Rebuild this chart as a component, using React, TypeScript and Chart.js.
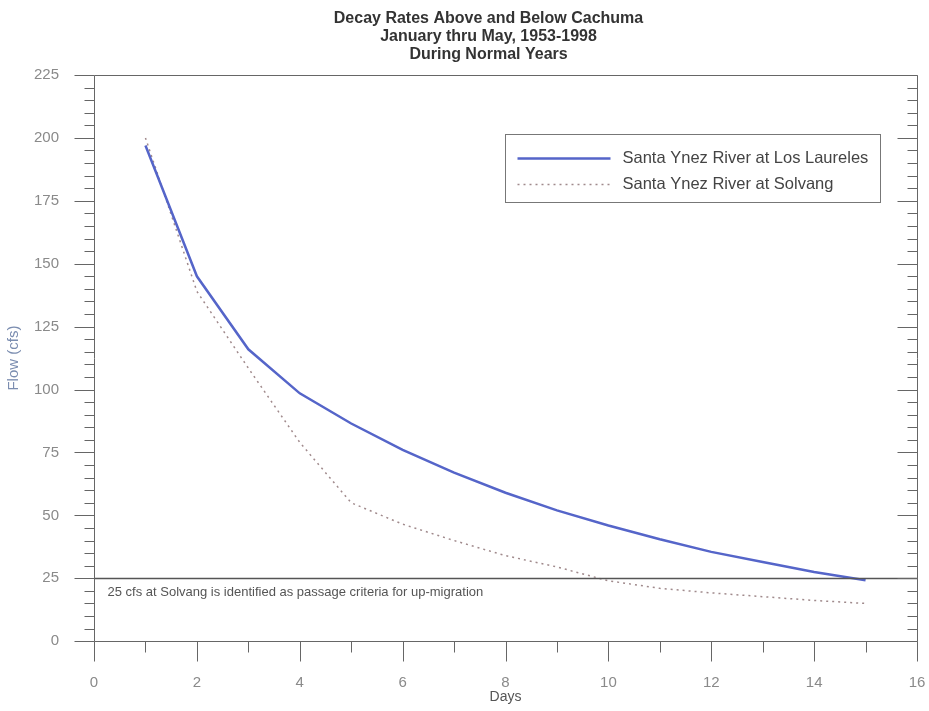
import React, { useEffect, useRef } from "react";
import { Chart, registerables } from "chart.js";

Chart.register(...registerables);

const days = [1, 2, 3, 4, 5, 6, 7, 8, 9, 10, 11, 12, 13, 14, 15];
const losLaureles = [197, 145, 116, 98.5, 86.5, 76, 67, 59, 52, 46, 40.5, 35.5, 31.5, 27.5, 24.2];
const solvang = [200, 139, 108.5, 79, 55, 46.5, 40, 34, 29.5, 24, 21, 19.2, 17.7, 16.2, 15];
const seriesLabels = ["Santa Ynez River at Los Laureles", "Santa Ynez River at Solvang"];
const titleLines = ["Decay Rates Above and Below Cachuma", "January thru May, 1953-1998", "During Normal Years"];
const xAxisTitle = "Days";
const yAxisTitle = "Flow (cfs)";
const xMin = 0, xMax = 16, xStep = 2, xMinorStep = 1;
const yMin = 0, yMax = 225, yStep = 25, yMinorStep = 5;
const criteriaFlow = 25;
const criteriaNote = "25 cfs at Solvang is identified as passage criteria for up-migration";

const FONT = "'Liberation Sans', Arial, Helvetica, sans-serif";

const decorPlugin = {
  id: "decor",
  afterDraw(chart: any) {
    const { ctx, chartArea: a, scales } = chart;
    const xs = scales.x, ys = scales.y;
    const L = Math.round(a.left) + 0.5, R = Math.round(a.right) + 0.5;
    const T = Math.round(a.top) + 0.5, B = Math.round(a.bottom) + 0.5;
    ctx.save();

    // criteria line
    const yc = Math.round(ys.getPixelForValue(criteriaFlow)) + 0.5;
    ctx.strokeStyle = "#555";
    ctx.lineWidth = 1.5;
    ctx.beginPath();
    ctx.moveTo(L, yc);
    ctx.lineTo(R, yc);
    ctx.stroke();
    ctx.fillStyle = "#555";
    ctx.font = `13px ${FONT}`;
    ctx.textAlign = "left";
    ctx.textBaseline = "middle";
    ctx.fillText(criteriaNote, L + 13, yc + 14);

    // frame and ticks
    ctx.strokeStyle = "#666";
    ctx.lineWidth = 1;
    ctx.beginPath();
    ctx.moveTo(L, T); ctx.lineTo(R, T); ctx.lineTo(R, B); ctx.lineTo(L, B); ctx.closePath();
    for (let v = yMin; v <= yMax; v += yMinorStep) {
      const y = Math.round(ys.getPixelForValue(v)) + 0.5;
      const len = v % yStep === 0 ? 20 : 10;
      ctx.moveTo(L - len, y); ctx.lineTo(L, y);
      ctx.moveTo(R, y); ctx.lineTo(R - len, y);
    }
    for (let v = xMin; v <= xMax; v += xMinorStep) {
      const x = Math.round(xs.getPixelForValue(v)) + 0.5;
      const len = v % xStep === 0 ? 20 : 11;
      ctx.moveTo(x, B); ctx.lineTo(x, B + len);
    }
    ctx.stroke();

    // title
    ctx.fillStyle = "#333";
    ctx.font = `bold 16px ${FONT}`;
    ctx.textAlign = "center";
    ctx.textBaseline = "middle";
    const cx = (a.left + a.right) / 2 - 17;
    titleLines.forEach((t, i) => ctx.fillText(t, cx, a.top - 56 + i * 18));

    // legend
    const lw = 375, lh = 68;
    const lx = Math.round(a.right - 37 - lw) + 0.5;
    const ly = Math.round(a.top + 59) + 0.5;
    ctx.fillStyle = "#fff";
    ctx.fillRect(lx, ly, lw, lh);
    ctx.strokeStyle = "#777";
    ctx.lineWidth = 1;
    ctx.strokeRect(lx, ly, lw, lh);
    chart.data.datasets.forEach((ds: any, i: number) => {
      const y = ly + 24 + i * 26;
      ctx.save();
      ctx.strokeStyle = ds.borderColor;
      ctx.lineWidth = ds.borderWidth;
      ctx.setLineDash(ds.borderDash || []);
      ctx.beginPath();
      ctx.moveTo(lx + 12, y);
      ctx.lineTo(lx + 105, y);
      ctx.stroke();
      ctx.restore();
      ctx.fillStyle = "#444";
      ctx.font = `16.5px ${FONT}`;
      ctx.textAlign = "left";
      ctx.textBaseline = "middle";
      ctx.fillText(ds.label, lx + 117, y);
    });
    ctx.restore();
  },
};

const hiddenGrid = (len: number) => ({
  display: true,
  drawOnChartArea: false,
  drawTicks: true,
  tickLength: len,
  color: "rgba(0,0,0,0)",
});

export default function App() {
  const ref = useRef<HTMLCanvasElement | null>(null);
  useEffect(() => {
    if (!ref.current) return;
    const chart = new Chart(ref.current, {
      type: "line",
      data: {
        datasets: [
          {
            label: seriesLabels[0],
            data: days.map((d, i) => ({ x: d, y: losLaureles[i] })),
            borderColor: "#5565c9",
            borderWidth: 2.5,
            pointRadius: 0,
            fill: false,
            tension: 0,
          },
          {
            label: seriesLabels[1],
            data: days.map((d, i) => ({ x: d, y: solvang[i] })),
            borderColor: "#a08a8c",
            borderWidth: 1.5,
            borderDash: [2, 4],
            pointRadius: 0,
            fill: false,
            tension: 0,
          },
        ],
      },
      options: {
        animation: false,
        responsive: false,
        layout: { padding: { left: 5, right: 12, top: 75, bottom: 5 } },
        plugins: {
          legend: { display: false },
          title: { display: false },
          tooltip: { enabled: false },
        },
        scales: {
          x: {
            type: "linear",
            min: xMin,
            max: xMax,
            grid: hiddenGrid(33),
            border: { display: false },
            ticks: { stepSize: xStep, color: "#8a8a8a", font: { family: FONT, size: 15 }, padding: 0 },
            title: { display: true, text: xAxisTitle, color: "#555", font: { family: FONT, size: 14 }, padding: { top: -3, bottom: 0 } },
          },
          y: {
            type: "linear",
            min: yMin,
            max: yMax,
            grid: hiddenGrid(35),
            border: { display: false },
            ticks: { stepSize: yStep, color: "#8a8a8a", font: { family: FONT, size: 15 }, padding: 0 },
            title: { display: true, text: yAxisTitle, color: "#7b8db0", font: { family: FONT, size: 15 }, padding: { top: 0, bottom: 11 } },
          },
        },
      },
      plugins: [decorPlugin],
    });
    return () => chart.destroy();
  }, []);
  return (
    <div style={{ position: "absolute", left: 0, top: 0, width: 929, height: 711, background: "#fff" }}>
      <canvas ref={ref} width={929} height={711} />
    </div>
  );
}
